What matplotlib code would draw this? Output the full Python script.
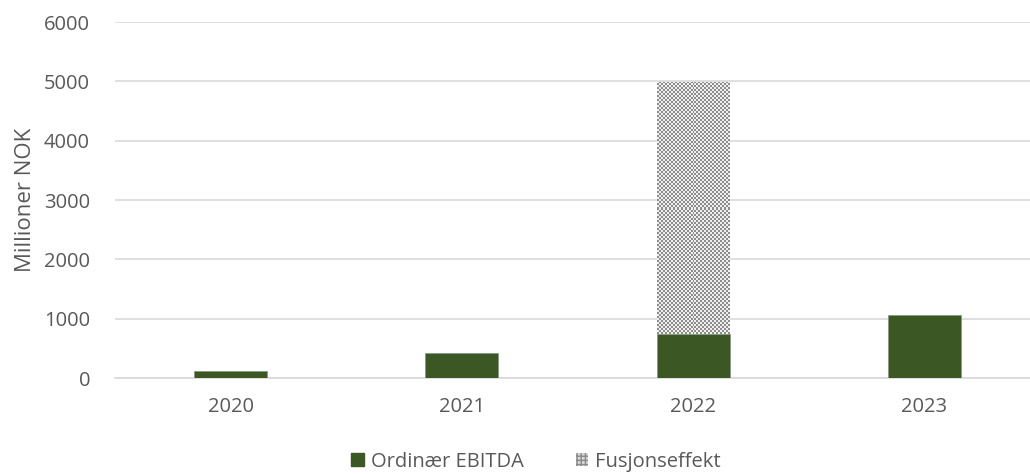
import matplotlib.pyplot as plt
import numpy as np
from matplotlib.patches import Patch

years = ['2020', '2021', '2022', '2023']
ordinaer = [120, 420, 740, 1060]
fusjon = [0, 0, 4250, 0]

green = '#3b5724'
grey_txt = '#595959'

plt.rcParams['font.family'] = ['Open Sans', 'DejaVu Sans']
plt.rcParams['hatch.color'] = '#8a8a8a'

fig = plt.figure(figsize=(10.30, 4.74), dpi=100)
ax = fig.add_axes([115/1030, 96/474, 925/1030, 356/474])

x = np.arange(len(years))
w = 0.315
ax.bar(x, ordinaer, w, color=green, edgecolor='#8a9a80', linewidth=0.6, zorder=3)
fbars = ax.bar(x, fusjon, w, bottom=ordinaer, color='none', linewidth=0, zorder=3)

# checkerboard texture for the merger effect (about 2 px per cell)
cell = (np.indices((126, 37)).sum(axis=0) % 2)[..., None]
tex = np.where(cell == 1, [0.56, 0.56, 0.56], [0.94, 0.94, 0.94])
for b, v in zip(fbars, fusjon):
    if v <= 0:
        continue
    x0, y0 = b.get_x(), b.get_y()
    im = ax.imshow(tex, extent=[x0, x0 + b.get_width(), y0, y0 + v],
                   aspect='auto', interpolation='nearest', zorder=3)
    im.set_clip_path(b)

ax.set_xlim(-0.5, 3.5)
ax.set_ylim(0, 6000)
ax.set_yticks(range(0, 6001, 1000))
ax.set_xticks(x)
ax.set_xticklabels(years)
ax.grid(axis='y', color='#d9d9d9', linewidth=1.2, zorder=0)
for s in ['top', 'right', 'left']:
    ax.spines[s].set_visible(False)
ax.spines['bottom'].set_color('#d9d9d9')
ax.spines['bottom'].set_linewidth(1.2)
ax.tick_params(length=0, labelsize=14.5, colors=grey_txt)
ax.tick_params(axis='x', pad=14)
ax.tick_params(axis='y', pad=18)
ax.set_ylabel('Millioner NOK', fontsize=16, color=grey_txt, labelpad=6)

handles = [Patch(facecolor=green, edgecolor=green),
           Patch(facecolor='#d8d8d8', edgecolor='#8a8a8a', linewidth=0, hatch='++++')]
fig.legend(handles, ['Ordinær EBITDA', 'Fusjonseffekt'], loc='center',
           bbox_to_anchor=(536/1030, 12/474), ncol=2, frameon=False, fontsize=14.5,
           handlelength=0.62, handleheight=0.62, handletextpad=0.35,
           columnspacing=2.6, labelcolor=grey_txt)

fig.savefig('out.png', dpi=100)
